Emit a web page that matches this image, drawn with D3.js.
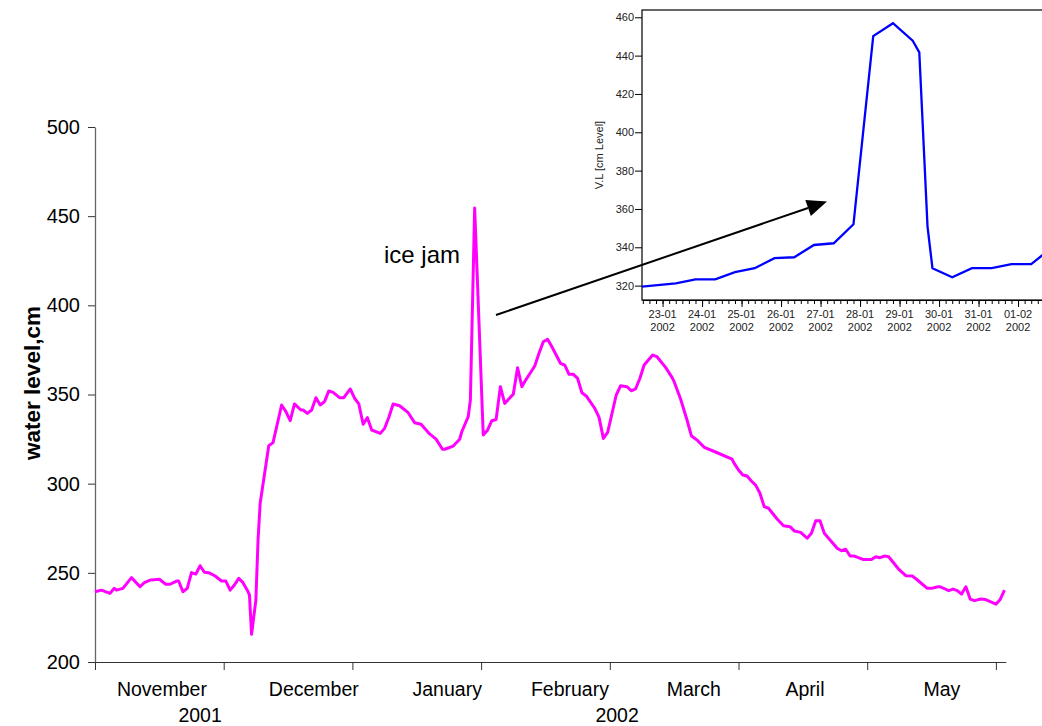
<!DOCTYPE html>
<html>
<head>
<meta charset="utf-8">
<script src="https://cdn.jsdelivr.net/npm/d3@7"></script>
<style>
  body { margin: 0; background: #fff; }
  svg { display: block; font-family: "Liberation Sans", Arial, sans-serif; }
</style>
</head>
<body>
<svg id="chart" width="1042" height="726"></svg>
<script>
// main series: [day since 1 Nov 2001, water level cm]
const mainLevel = [
  [0,239.4],[1.5,240.3],[3.5,238.5],[4.5,241.3],[5,240.3],[6.5,241.3],[8.5,247.3],[10.5,242.2],
  [11.5,244.5],[13,246],[15,246.4],[16.5,243.6],[17.5,243.6],[19,245.4],[19.5,245.4],[20.5,239.4],
  [21.5,241.3],[22.5,250.1],[23.5,249.3],[24.5,254],[25.5,250.3],[26.5,250.1],[28,248.2],[29.5,245.4],
  [30.5,245.4],[31.5,240.3],[32.5,243.2],[33.5,246.9],[34.5,244.5],[35.5,240.3],[36,237.6],[36.5,215.5],
  [37.5,234.8],[38,268],[38.5,289],[40.5,321.3],[41.5,323],[43.5,344.1],[44.5,340.4],[45.5,335.3],
  [46.5,344.7],[48,341.3],[48.5,341.3],[49.5,339.4],[50.5,341.3],[51.5,348.2],[52.5,344.1],[53.5,346],
  [54.5,352],[55.5,351.2],[57,348.2],[58,348.2],[59.5,353.1],[60.5,347.9],[61.5,344.7],[62.5,333.3],
  [63.5,337],[64.5,330.1],[66.5,328.2],[67.5,331],[68.5,337.2],[69.5,344.7],[71,343.7],[73,339.8],
  [74.5,334.2],[76,333.3],[78,327.9],[79.5,325],[81,319.3],[81.5,319.3],[83.5,321.1],[85,324.9],
  [85.5,329.1],[87,337.6],[87.5,346.9],[88.5,454.6],[90.5,327.3],[91.5,330],[92.5,335.3],[93.5,336],
  [94.5,354.4],[95.5,345],[97.5,350.2],[98.5,365],[99.5,354.4],[100.5,358.5],[101.5,362.2],[102.5,366],
  [103.5,373.1],[104.5,379.6],[105.5,381],[106.5,376.8],[108.5,367.5],[109.5,366.5],[110.5,361.3],
  [111.5,361.3],[112.5,359],[113.5,351],[114.5,349.2],[116.5,342.2],[117.5,337.2],[118.5,325.4],
  [119.5,328.8],[121.5,349.7],[122.5,354.9],[124,354.4],[125,352.1],[126,353.1],[127,359],[128,366.5],
  [130,372.1],[131,371.2],[133,365.2],[134.5,359.6],[135,357.2],[136.5,347.5],[138,335.7],[139,326.9],
  [140.5,324.1],[142,320.4],[144.5,317.9],[148.5,313.7],[149,311.4],[150,307.7],[151,304.9],[152,304.3],
  [153,301.5],[154,299.2],[155,294.6],[156,287.1],[157,286.2],[159,280.2],[160.5,276.4],[162,275.9],
  [163,273.5],[164.5,272.7],[166,269.4],[167,272.2],[168,279.2],[169,279.2],[170,272.2],[171,269.4],
  [173,263.8],[174,262.4],[175,263.2],[176,259.4],[177,259.4],[179,257.5],[181,257.5],[182,259],
  [183,258.5],[184,259.4],[185,259],[187.5,251.6],[189,248.4],[190.5,248.2],[191.5,246.4],[194,241.3],
  [195,241.3],[196.5,242.2],[197,242.2],[199,240],[200,240.9],[201,240],[202,238.1],[203,242.2],
  [204,235.3],[205,234.4],[206.5,235.3],[207.5,235.1],[210,232.4],[211,235.1],[212,240.3]
];
const mainTicksY = [200, 250, 300, 350, 400, 450, 500];
const mainTicksX = [0, 30, 60, 90, 120, 150, 180, 210];
const monthNames = ["November", "December", "January", "February", "March", "April", "May"];
const monthLabelDay = [15.6, 51, 82.1, 110.7, 139.6, 165.5, 197.4];
const yearNames = ["2001", "2002"];
const yearLabelDay = [24.5, 121.7];

// inset series: [time, V.L cm]
const insetLevel = [
  ["2002-01-22T08:00", 319.2], ["2002-01-23T08:00", 321.2], ["2002-01-23T20:00", 323.3],
  ["2002-01-24T08:00", 323.3], ["2002-01-24T20:00", 327], ["2002-01-25T08:00", 329.1],
  ["2002-01-25T20:00", 334.3], ["2002-01-26T08:00", 334.8], ["2002-01-26T20:00", 341.2],
  ["2002-01-27T08:00", 342.1], ["2002-01-27T20:00", 352], ["2002-01-28T08:00", 450.2],
  ["2002-01-28T20:00", 456.9], ["2002-01-29T08:00", 447.8], ["2002-01-29T12:00", 441.7],
  ["2002-01-29T17:00", 350.8], ["2002-01-29T20:00", 329.1], ["2002-01-30T08:00", 324.4],
  ["2002-01-30T20:00", 329.1], ["2002-01-31T08:00", 329.1], ["2002-01-31T20:00", 331.2],
  ["2002-02-01T08:00", 331.2], ["2002-02-01T20:00", 339.5]
];
const insetTicksY = [320, 340, 360, 380, 400, 420, 440, 460];

const svg = d3.select('#chart');
const parseTime = d3.timeParse('%Y-%m-%dT%H:%M');

// ---------- main chart ----------
const x = d3.scaleLinear().domain([0, 212.3]).range([95, 95 + 212.3 * 4.29]);
const y = d3.scaleLinear().domain([200, 500]).range([662, 127]);

const yAxis = svg.append('g')
    .attr('transform', 'translate(95,0)')
    .call(d3.axisLeft(y).tickValues(mainTicksY).tickSize(7).tickSizeOuter(0).tickPadding(8));
yAxis.select('.domain').attr('stroke', '#666').attr('stroke-width', 1.3);
yAxis.selectAll('.tick line').attr('stroke', '#333');
yAxis.selectAll('.tick text').attr('font-size', 20).attr('fill', '#000')
    .attr('font-family', '"Liberation Sans", Arial, sans-serif');

const xAxis = svg.append('g')
    .attr('transform', 'translate(0,662)')
    .call(d3.axisBottom(x).tickValues(mainTicksX).tickSize(8).tickSizeOuter(0).tickFormat(''));
xAxis.select('.domain').attr('stroke', '#333');
xAxis.selectAll('.tick line').attr('stroke', '#333');

svg.append('g').selectAll('text.month')
    .data(monthNames)
    .join('text')
    .attr('class', 'month')
    .attr('x', (d, i) => x(monthLabelDay[i]))
    .attr('y', 696)
    .attr('text-anchor', 'middle')
    .attr('font-size', 19.5)
    .text(d => d);

svg.append('g').selectAll('text.year')
    .data(yearNames)
    .join('text')
    .attr('class', 'year')
    .attr('x', (d, i) => x(yearLabelDay[i]))
    .attr('y', 722)
    .attr('text-anchor', 'middle')
    .attr('font-size', 19.5)
    .text(d => d);

svg.append('text')
    .attr('transform', 'translate(40,383) rotate(-90)')
    .attr('text-anchor', 'middle')
    .attr('font-size', 22.5)
    .attr('font-weight', 'bold')
    .text('water level,cm');

svg.append('path')
    .datum(mainLevel)
    .attr('fill', 'none')
    .attr('stroke', '#ff00ff')
    .attr('stroke-width', 3)
    .attr('stroke-linejoin', 'round')
    .attr('d', d3.line().x(d => x(d[0])).y(d => y(d[1])));

svg.append('text')
    .attr('x', 384)
    .attr('y', 263)
    .attr('font-size', 24)
    .text('ice jam');

// ---------- inset ----------
const ix = d3.scaleTime()
    .domain([parseTime('2002-01-22T11:30'), parseTime('2002-02-02T00:00')])
    .range([642, 642 + 10.52 * 39.5]);
const iy = d3.scaleLinear().domain([312.5, 463.8]).range([300, 10]);

const inset = svg.append('g');
inset.append('rect')
    .attr('x', ix.range()[0]).attr('y', iy.range()[1])
    .attr('width', ix.range()[1] - ix.range()[0]).attr('height', iy.range()[0] - iy.range()[1])
    .attr('fill', '#fff').attr('stroke', '#000').attr('stroke-width', 1.2);

inset.append('clipPath').attr('id', 'insetClip')
    .append('rect')
    .attr('x', ix.range()[0]).attr('y', iy.range()[1])
    .attr('width', ix.range()[1] - ix.range()[0]).attr('height', iy.range()[0] - iy.range()[1]);

const iyAxis = inset.append('g')
    .attr('transform', 'translate(642,0)')
    .call(d3.axisLeft(iy).tickValues(insetTicksY).tickSize(7).tickSizeOuter(0).tickPadding(1));
iyAxis.select('.domain').remove();
iyAxis.selectAll('.tick text').attr('font-size', 11).attr('fill', '#222')
    .attr('font-family', '"Liberation Sans", Arial, sans-serif');

// minor ticks every 4 hours, major each day
const ixMinor = inset.append('g')
    .attr('transform', 'translate(0,300)')
    .call(d3.axisBottom(ix).ticks(d3.timeHour.every(4)).tickSize(4).tickSizeOuter(0).tickFormat(''));
ixMinor.select('.domain').attr('stroke', '#000').attr('stroke-width', 1.2);

const ixMajor = inset.append('g')
    .attr('transform', 'translate(0,300)')
    .call(d3.axisBottom(ix).ticks(d3.timeDay.every(1)).tickSize(7).tickSizeOuter(0).tickFormat(''));
ixMajor.select('.domain').remove();

// only the days whose labels fit inside the page get a label
const dayFmt = d3.timeFormat('%d-%m');
const yearFmt = d3.timeFormat('%Y');
const majorDays = ix.ticks(d3.timeDay.every(1)).filter(d => ix(d) < 1025);
const dayLabels = inset.append('g').selectAll('g')
    .data(majorDays)
    .join('g')
    .attr('transform', d => 'translate(' + ix(d) + ',0)')
    .attr('font-size', 11)
    .attr('fill', '#222')
    .attr('text-anchor', 'middle');
dayLabels.append('text').attr('y', 317.5).text(d => dayFmt(d));
dayLabels.append('text').attr('y', 331).text(d => yearFmt(d));

inset.append('text')
    .attr('transform', 'translate(603,155) rotate(-90)')
    .attr('text-anchor', 'middle')
    .attr('font-size', 11)
    .attr('fill', '#222')
    .text('V.L [cm Level]');

inset.append('path')
    .datum(insetLevel)
    .attr('clip-path', 'url(#insetClip)')
    .attr('fill', 'none')
    .attr('stroke', '#0000ff')
    .attr('stroke-width', 2.3)
    .attr('d', d3.line().x(d => ix(parseTime(d[0]))).y(d => iy(d[1])));

// ---------- arrow from the spike to the inset ----------
const arrowFrom = [496, 315], arrowTip = [827, 201.5];
const headLen = 20, headHalf = 8.5;
const dx = arrowTip[0] - arrowFrom[0], dy = arrowTip[1] - arrowFrom[1];
const len = Math.hypot(dx, dy), ux = dx / len, uy = dy / len;
const base = [arrowTip[0] - ux * headLen, arrowTip[1] - uy * headLen];
svg.append('line')
    .attr('x1', arrowFrom[0]).attr('y1', arrowFrom[1])
    .attr('x2', base[0]).attr('y2', base[1])
    .attr('stroke', '#000').attr('stroke-width', 2);
svg.append('polygon')
    .attr('points', [
        arrowTip,
        [base[0] - uy * headHalf, base[1] + ux * headHalf],
        [base[0] + uy * headHalf, base[1] - ux * headHalf]
    ].map(p => p.join(',')).join(' '))
    .attr('fill', '#000');
</script>
</body>
</html>
